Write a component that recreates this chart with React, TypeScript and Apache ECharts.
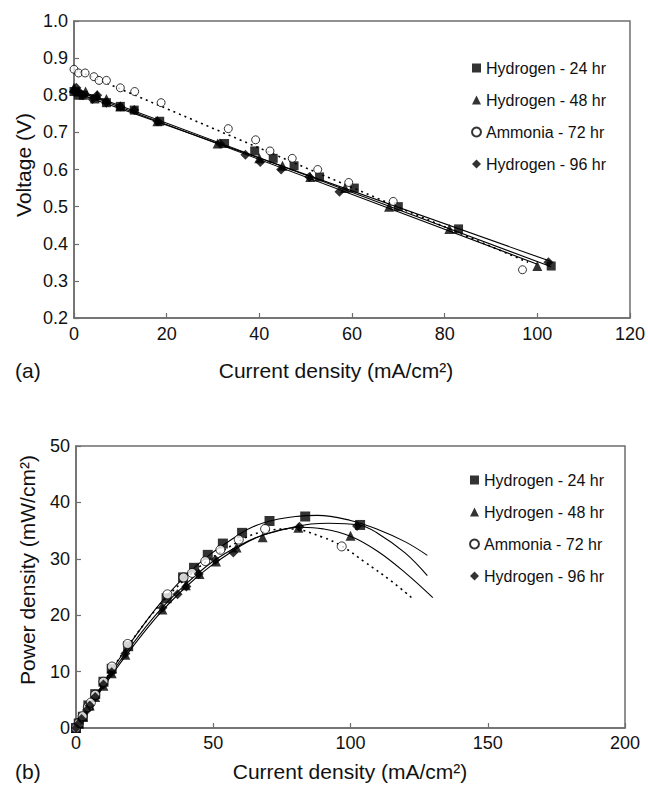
import React, { useEffect, useRef } from 'react';
import * as echarts from 'echarts';

const seriesNames = ['Hydrogen - 24 hr', 'Hydrogen - 48 hr', 'Ammonia - 72 hr', 'Hydrogen - 96 hr'];
const symbols = ['rect', 'triangle', 'circle', 'diamond'];

// ---------- Panel (a): voltage vs current density ----------
const h24aI = [0, 1, 2, 4.5, 7, 10, 13, 18.5, 32.5, 39, 43, 47.5, 53, 60.5, 70, 83, 103];
const h24aV = [0.81, 0.8, 0.8, 0.79, 0.78, 0.77, 0.76, 0.73, 0.67, 0.65, 0.63, 0.61, 0.58, 0.55, 0.5, 0.44, 0.34];
const h48aI = [0, 1, 2.5, 5, 7, 10, 18, 31, 40, 45, 51, 58.5, 68, 81, 100];
const h48aV = [0.82, 0.81, 0.81, 0.8, 0.79, 0.77, 0.73, 0.67, 0.63, 0.61, 0.58, 0.55, 0.5, 0.44, 0.34];
const am72aI = [0, 1, 2.4, 4.3, 5.4, 7, 10, 13.1, 18.8, 33.3, 39.2, 42.3, 47.1, 52.6, 59.3, 68.9, 96.8];
const am72aV = [0.87, 0.86, 0.86, 0.85, 0.84, 0.84, 0.82, 0.81, 0.78, 0.71, 0.68, 0.65, 0.63, 0.6, 0.565, 0.514, 0.33];
const h96aI = [0, 0.5, 1, 2, 4, 5, 7, 10, 13, 18, 31.5, 37, 40.2, 44.7, 50.8, 57.3, 102.4];
const h96aV = [0.81, 0.82, 0.81, 0.8, 0.79, 0.8, 0.78, 0.77, 0.76, 0.73, 0.67, 0.64, 0.62, 0.6, 0.58, 0.54, 0.35];

// linear fit lines (end points)
const fit24aI = [0, 103];
const fit24aV = [0.808, 0.352];
const fit48aI = [0, 100];
const fit48aV = [0.815, 0.345];
const fit72aI = [0, 98];
const fit72aV = [0.87, 0.35];
const fit96aI = [0, 103];
const fit96aV = [0.818, 0.338];

const xTicksA = [0, 20, 40, 60, 80, 100, 120];
const yTicksA = [0.2, 0.3, 0.4, 0.5, 0.6, 0.7, 0.8, 0.9, 1.0];

// ---------- Panel (b): power density vs current density ----------
const h24bI = [0, 1, 2.5, 4.5, 7, 10, 13, 19, 33, 39, 43, 48, 53.5, 60.5, 70.5, 83.5, 103.5];
const h24bP = [0, 0.8, 2, 4, 6, 8.2, 10.5, 14.5, 23, 26.7, 28.4, 30.7, 32.7, 34.6, 36.7, 37.5, 36];
const h48bI = [0, 1, 2.5, 5, 7, 10, 13, 18, 31.5, 40, 45, 51, 58.5, 68, 81, 100];
const h48bP = [0, 0.8, 2, 4, 5.5, 7.5, 9.7, 13, 21, 25.3, 27.3, 29.5, 32, 33.8, 35.5, 34.1];
const am72bI = [0, 1, 2.4, 4.3, 5.4, 7, 10, 13.1, 18.8, 33.3, 39.2, 42.3, 47.1, 52.6, 59.3, 68.9, 96.8];
const am72bP = [0, 0.9, 2.1, 3.7, 4.5, 5.9, 8.2, 10.9, 14.9, 23.7, 26.7, 27.5, 29.6, 31.6, 33.4, 35.3, 32.2];
const h96bI = [0, 1, 2, 4, 5, 7, 10, 13, 18, 31.5, 37, 40.2, 44.7, 50.8, 57.3, 81.4, 102.4];
const h96bP = [0, 0.8, 1.6, 3.2, 4, 5.5, 7.7, 9.9, 13.2, 21.3, 23.7, 25.1, 27.3, 29.8, 31.1, 35.7, 35.8];

// fitted curves
const curve24bI = [0, 20, 40, 60, 70, 80, 88, 100, 110, 120, 128];
const curve24bP = [0, 15.2, 27, 34.5, 36.6, 37.5, 37.7, 36.8, 35.2, 33, 30.6];
const curve48bI = [0, 20, 40, 60, 70, 82, 90, 100, 110, 120, 130];
const curve48bP = [0, 14, 25, 32.3, 34.5, 35.6, 35.3, 34, 31.3, 27.5, 23.1];
const curve72bI = [0, 20, 40, 60, 70, 78, 90, 97, 105, 115, 122.5];
const curve72bP = [0, 15.3, 26.5, 33.3, 35, 35.3, 33.8, 32.2, 29.5, 26, 23];
const curve96bI = [0, 20, 40, 60, 80, 92, 103, 110, 120, 128];
const curve96bP = [0, 14.5, 25.5, 32.5, 35.7, 36.3, 36, 34.5, 31, 27];

const xTicksB = [0, 50, 100, 150, 200];
const yTicksB = [0, 10, 20, 30, 40, 50];

const FONT = 'Liberation Sans, Arial, Helvetica, sans-serif';
const GREY = '#6e6e6e';

const zip = (xs: number[], ys: number[]) => xs.map((x, i) => [x, ys[i]]);

export default function App() {
  const ref = useRef<HTMLDivElement>(null);

  useEffect(() => {
    if (!ref.current) return;
    const chart = echarts.init(ref.current, undefined, { renderer: 'svg' });

    const pointsA = [zip(h24aI, h24aV), zip(h48aI, h48aV), zip(am72aI, am72aV), zip(h96aI, h96aV)];
    const fitsA = [zip(fit24aI, fit24aV), zip(fit48aI, fit48aV), zip(fit72aI, fit72aV), zip(fit96aI, fit96aV)];
    const pointsB = [zip(h24bI, h24bP), zip(h48bI, h48bP), zip(am72bI, am72bP), zip(h96bI, h96bP)];
    const curvesB = [zip(curve24bI, curve24bP), zip(curve48bI, curve48bP), zip(curve72bI, curve72bP), zip(curve96bI, curve96bP)];

    const sizesA = [9, 10, 8, 10];
    const sizesB = [10, 10, 9, 10];

    const markerStyle = (i: number) =>
      i === 2
        ? { color: '#ffffff', borderColor: '#000000', borderWidth: 1 }
        : { color: '#000000', borderColor: '#000000', borderWidth: 0 };

    const lineStyle = (i: number) =>
      i === 2
        ? { color: '#000000', width: 1.6, type: [2, 4] as any }
        : { color: '#000000', width: 1.1, type: 'solid' as any };

    const series: any[] = [];
    fitsA.forEach((d, i) => {
      series.push({
        name: 'fitA' + i, type: 'line', xAxisIndex: 0, yAxisIndex: 0, data: d,
        symbol: 'none', lineStyle: lineStyle(i), z: 2, silent: true,
      });
    });
    curvesB.forEach((d, i) => {
      series.push({
        name: 'fitB' + i, type: 'line', xAxisIndex: 1, yAxisIndex: 1, data: d,
        symbol: 'none', smooth: 0.4, lineStyle: lineStyle(i), z: 2, silent: true,
      });
    });
    pointsA.forEach((d, i) => {
      series.push({
        name: seriesNames[i], type: 'scatter', xAxisIndex: 0, yAxisIndex: 0, data: d,
        symbol: symbols[i], symbolSize: sizesA[i], itemStyle: markerStyle(i), z: 3,
      });
    });
    pointsB.forEach((d, i) => {
      series.push({
        name: seriesNames[i], type: 'scatter', xAxisIndex: 1, yAxisIndex: 1, data: d,
        symbol: symbols[i], symbolSize: sizesB[i], itemStyle: markerStyle(i), z: 3,
      });
    });

    const axisCommon = {
      axisLine: { show: true, lineStyle: { color: GREY, width: 1.5 } },
      axisTick: { show: true, inside: true, length: 5, lineStyle: { color: GREY, width: 1.2 } },
      splitLine: { show: false },
    };
    const tickFont = { color: '#111111', fontFamily: FONT, fontSize: 18 };

    const legendData = seriesNames.map((n, i) => ({ name: n, icon: symbols[i] }));
    const legendCommon = {
      orient: 'vertical',
      itemWidth: 9,
      itemHeight: 9,
      itemGap: 16,
      selectedMode: false,
      textStyle: { color: '#111111', fontFamily: FONT, fontSize: 16 },
      data: legendData,
    };

    const titleStyle = { fill: '#111111', font: `21px ${FONT}` };

    chart.setOption({
      animation: false,
      backgroundColor: '#ffffff',
      grid: [
        { left: 74, top: 21, width: 569, height: 297, show: true, borderColor: GREY, borderWidth: 1.5, backgroundColor: 'transparent' },
        { left: 76, top: 446, width: 549, height: 282, show: true, borderColor: GREY, borderWidth: 1.5, backgroundColor: 'transparent' },
      ],
      xAxis: [
        {
          type: 'value', gridIndex: 0, min: xTicksA[0], max: xTicksA[xTicksA.length - 1], interval: 20,
          ...axisCommon, axisLabel: { ...tickFont, margin: 7 },
        },
        {
          type: 'value', gridIndex: 1, min: xTicksB[0], max: xTicksB[xTicksB.length - 1], interval: 50,
          ...axisCommon, axisLabel: { ...tickFont, margin: 6 },
        },
      ],
      yAxis: [
        {
          type: 'value', gridIndex: 0, min: yTicksA[0], max: yTicksA[yTicksA.length - 1], interval: 0.1,
          ...axisCommon,
          axisLabel: { ...tickFont, margin: 6, formatter: (v: number) => v.toFixed(1) },
        },
        {
          type: 'value', gridIndex: 1, min: yTicksB[0], max: yTicksB[yTicksB.length - 1], interval: 10,
          ...axisCommon, axisLabel: { ...tickFont, margin: 6 },
        },
      ],
      legend: [
        { ...legendCommon, left: 466, top: 55 },
        { ...legendCommon, left: 464, top: 467 },
      ],
      graphic: [
        { type: 'text', x: 23, y: 165, rotation: Math.PI / 2, style: { ...titleStyle, text: 'Voltage (V)', textAlign: 'center', textVerticalAlign: 'middle' } },
        { type: 'text', x: 336, y: 370, style: { ...titleStyle, text: 'Current density (mA/cm²)', textAlign: 'center', textVerticalAlign: 'middle' } },
        { type: 'text', x: 15, y: 370, style: { ...titleStyle, text: '(a)', textAlign: 'left', textVerticalAlign: 'middle' } },
        { type: 'text', x: 27, y: 570, rotation: Math.PI / 2, style: { ...titleStyle, text: 'Power density (mW/cm²)', textAlign: 'center', textVerticalAlign: 'middle' } },
        { type: 'text', x: 350, y: 771, style: { ...titleStyle, text: 'Current density (mA/cm²)', textAlign: 'center', textVerticalAlign: 'middle' } },
        { type: 'text', x: 15, y: 771, style: { ...titleStyle, text: '(b)', textAlign: 'left', textVerticalAlign: 'middle' } },
      ],
      series,
    });

    return () => chart.dispose();
  }, []);

  return (
    <div
      ref={ref}
      style={{ position: 'fixed', left: 0, top: 0, width: 648, height: 786, background: '#ffffff' }}
    />
  );
}
